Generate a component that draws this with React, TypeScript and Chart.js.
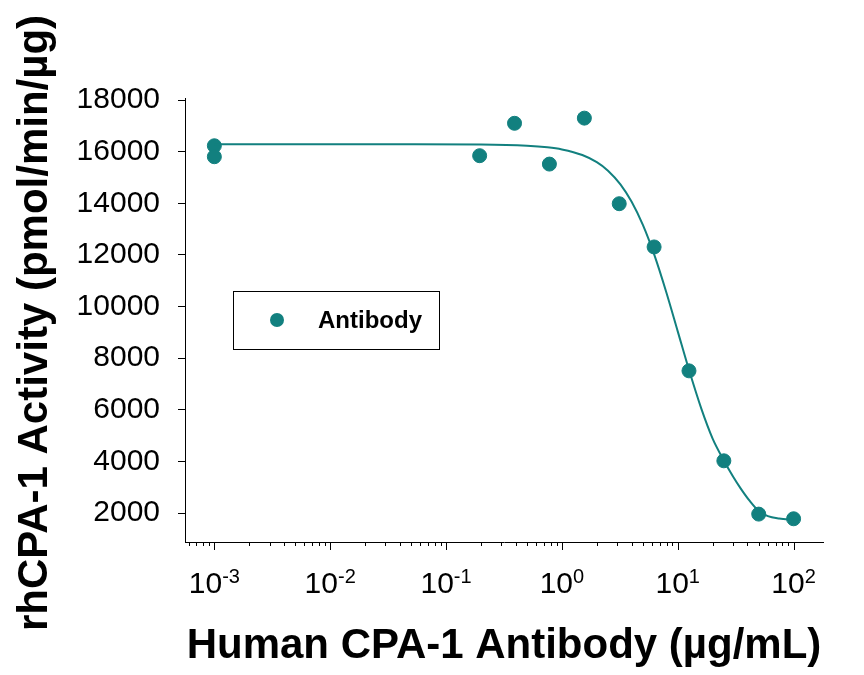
import React, { useEffect, useRef } from "react";
import { Chart, registerables } from "chart.js";

Chart.register(...registerables);

// Measured data points (µg/mL vs activity)
const concentrations = [0.001, 0.001, 0.195, 0.39, 0.78, 1.5625, 3.125, 6.25, 12.5, 25, 50, 100];
const activity = [16230, 15805, 15845, 17100, 15520, 17300, 13985, 12310, 7510, 4025, 1960, 1780];

// Fitted curve
const fitX = [0.001, 0.05, 0.2, 0.5, 0.75, 1.0, 1.5, 2, 2.5, 3.2, 4, 5, 6.3, 8, 10, 12.5, 16, 20, 25, 30, 35, 42, 50, 60, 75, 100];
const fitY = [16285, 16284, 16276, 16230, 16170, 16088, 15871, 15594, 15265, 14734, 14060, 13162, 11982, 10527, 9040, 7550, 6037, 4887, 4040, 3420, 2950, 2460, 2080, 1880, 1790, 1740];

const yTicks = [2000, 4000, 6000, 8000, 10000, 12000, 14000, 16000, 18000];
const xDecades = [-3, -2, -1, 0, 1, 2];

const seriesName = "Antibody";
const xTitle = "Human CPA-1 Antibody (µg/mL)";
const yTitle = "rhCPA-1 Activity (pmol/min/µg)";

const TEAL = "#12807f";
const FONT = "'Liberation Sans', Arial, Helvetica, sans-serif";

const customPlugin = {
  id: "custom",
  afterDraw(chart: any) {
    const ctx = chart.ctx;
    const xs = chart.scales.x;
    const area = chart.chartArea;
    const bottom = area.bottom;
    ctx.save();
    ctx.strokeStyle = "#000";
    ctx.lineWidth = 1;
    // x ticks (major & minor)
    for (let d = -4; d <= 2; d++) {
      for (let m = 1; m <= 9; m++) {
        const v = m * Math.pow(10, d);
        if (v < xs.min || v > xs.max) continue;
        const px = Math.round(xs.getPixelForValue(v)) + 0.5;
        const len = m === 1 ? 8 : 4;
        ctx.beginPath();
        ctx.moveTo(px, bottom);
        ctx.lineTo(px, bottom + len);
        ctx.stroke();
      }
    }
    // x tick labels with superscripts
    ctx.fillStyle = "#000";
    ctx.textBaseline = "alphabetic";
    ctx.textAlign = "left";
    xDecades.forEach((d) => {
      const px = xs.getPixelForValue(Math.pow(10, d));
      ctx.font = `30px ${FONT}`;
      const baseW = ctx.measureText("10").width;
      ctx.font = `20px ${FONT}`;
      const expTxt = d < 0 ? "-" + Math.abs(d) : String(d);
      const expW = ctx.measureText(expTxt).width;
      const start = px - (baseW + expW) / 2;
      ctx.font = `30px ${FONT}`;
      ctx.fillText("10", start, 593);
      ctx.font = `20px ${FONT}`;
      ctx.fillText(expTxt, start + baseW, 583);
    });
    // axis titles
    ctx.font = `bold 42px ${FONT}`;
    ctx.textAlign = "center";
    ctx.fillText(xTitle, 504, 658);
    ctx.save();
    ctx.translate(47, 323);
    ctx.rotate(-Math.PI / 2);
    ctx.fillText(yTitle, 0, 0);
    ctx.restore();
    // legend
    ctx.lineWidth = 1;
    ctx.strokeRect(233.5, 291.5, 206, 58);
    ctx.fillStyle = TEAL;
    ctx.beginPath();
    ctx.arc(277, 320, 7, 0, Math.PI * 2);
    ctx.fill();
    ctx.fillStyle = "#000";
    ctx.font = `bold 24px ${FONT}`;
    ctx.textAlign = "left";
    ctx.textBaseline = "middle";
    ctx.fillText(seriesName, 318, 321);
    ctx.restore();
  },
};

export default function App() {
  const ref = useRef<HTMLCanvasElement>(null);
  useEffect(() => {
    if (!ref.current) return;
    const chart = new Chart(ref.current, {
      type: "scatter",
      data: {
        datasets: [
          {
            type: "line",
            label: "fit",
            data: fitX.map((x, i) => ({ x, y: fitY[i] })),
            borderColor: TEAL,
            borderWidth: 2,
            pointRadius: 0,
            fill: false,
            cubicInterpolationMode: "monotone",
          } as any,
          {
            label: seriesName,
            data: concentrations.map((x, i) => ({ x, y: activity[i] })),
            backgroundColor: TEAL,
            borderColor: TEAL,
            pointRadius: 7,
            pointHoverRadius: 7,
          },
        ],
      },
      options: {
        responsive: false,
        animation: false,
        devicePixelRatio: 1,
        layout: { padding: { top: 98, right: 41, left: 0, bottom: 0 } },
        plugins: { legend: { display: false }, tooltip: { enabled: false } },
        scales: {
          x: {
            type: "logarithmic",
            min: 5.58e-4,
            max: 179.4,
            ticks: { display: false },
            grid: { display: true, drawOnChartArea: false, drawTicks: false, color: "#000" },
            border: { display: true, color: "#000", width: 1 },
            afterFit: (s: any) => {
              s.height = 133;
            },
          },
          y: {
            type: "linear",
            min: 880,
            max: 18080,
            afterBuildTicks: (s: any) => {
              s.ticks = yTicks.map((v) => ({ value: v }));
            },
            ticks: {
              color: "#000",
              font: { family: FONT, size: 30 },
              padding: 18,
              callback: (v: any) => String(v),
            },
            grid: { display: true, drawOnChartArea: false, drawTicks: true, tickLength: 7, color: "#000" },
            border: { display: true, color: "#000", width: 1 },
            afterFit: (s: any) => {
              s.width = 185;
            },
          },
        },
      },
      plugins: [customPlugin],
    });
    return () => chart.destroy();
  }, []);
  return (
    <div style={{ position: "fixed", left: 0, top: 0, width: 864, height: 675, background: "#fff" }}>
      <canvas ref={ref} width={864} height={675} style={{ width: 864, height: 675 }} />
    </div>
  );
}
